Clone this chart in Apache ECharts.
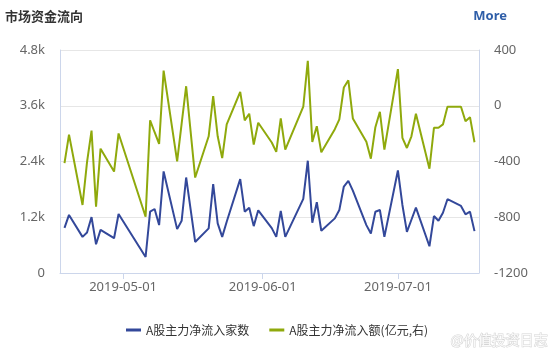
<!DOCTYPE html>
<html>
<head>
<meta charset="utf-8">
<script src="https://cdn.jsdelivr.net/npm/echarts@6/dist/echarts.min.js"></script>
<style>
html,body{margin:0;padding:0;background:#fff;}
#c{width:556px;height:351px;}
</style>
</head>
<body>
<div id="c"></div>
<script>
var dates = [
 '2019-04-18','2019-04-19','2019-04-22','2019-04-23','2019-04-24','2019-04-25','2019-04-26','2019-04-29','2019-04-30',
 '2019-05-06','2019-05-07','2019-05-08','2019-05-09','2019-05-10','2019-05-13','2019-05-14','2019-05-15','2019-05-16','2019-05-17',
 '2019-05-20','2019-05-21','2019-05-22','2019-05-23','2019-05-24','2019-05-27','2019-05-28','2019-05-29','2019-05-30','2019-05-31',
 '2019-06-03','2019-06-04','2019-06-05','2019-06-06','2019-06-10','2019-06-11','2019-06-12','2019-06-13','2019-06-14',
 '2019-06-17','2019-06-18','2019-06-19','2019-06-20','2019-06-21','2019-06-24','2019-06-25','2019-06-26','2019-06-27','2019-06-28',
 '2019-07-01','2019-07-02','2019-07-03','2019-07-04','2019-07-05','2019-07-08','2019-07-09','2019-07-10','2019-07-11','2019-07-12',
 '2019-07-15','2019-07-16','2019-07-17','2019-07-18'
];
var inflowCount = [
 970,1250,778,873,1204,619,929,749,1269,
 344,1319,1378,1031,2186,944,1124,2056,1362,669,
 960,1913,1068,778,1102,2021,1319,1406,1009,1349,
 966,778,1334,778,1594,2417,1081,1523,908,
 1176,1356,1861,1984,1774,1031,851,1319,1356,778,
 2207,1464,886,1146,1406,576,1226,1124,1297,1588,
 1443,1263,1319,901
];
var inflowAmount = [
 -411,-207,-712,-405,-178,-724,-308,-472,-199,
 -796,-105,-190,-274,252,-399,-129,140,-187,-515,
 -219,70,-219,-375,-134,99,-105,-57,-279,-122,
 -264,-331,-91,-315,-7,323,-259,-147,-334,
 -168,-98,131,183,-91,-259,-380,-154,-43,-315,
 263,-230,-303,-219,-57,-452,-158,-158,-134,-7,
 -7,-111,-82,-262
];
var xTickLabels = ['2019-05-01','2019-06-01','2019-07-01'];
var xRange = ['2019-04-17','2019-07-19'];
var seriesNames = ['A股主力净流入家数','A股主力净流入额(亿元,右)'];

function ts(s){ var p=s.split('-'); return Date.UTC(+p[0], +p[1]-1, +p[2]); }
function pad(n){ return (n<10?'0':'')+n; }
function fmtDate(v){ var d=new Date(v); return d.getUTCFullYear()+'-'+pad(d.getUTCMonth()+1)+'-'+pad(d.getUTCDate()); }
var tickVals = xTickLabels.map(ts);

var FONT = '"Noto Sans", "Noto Sans CJK SC", sans-serif';
var CJK = '"Noto Sans CJK SC", sans-serif';
var chart = echarts.init(document.getElementById('c'), null, {renderer:'canvas'});
chart.setOption({
  animation:false,
  backgroundColor:'#ffffff',
  title:[
    {text:'市场资金流向', left:5, top:10, padding:0,
     textStyle:{fontSize:13, fontWeight:'bold', color:'#333', fontFamily:CJK}},
    {text:'More', right:49, top:10, padding:0,
     textStyle:{fontSize:13, fontWeight:'bold', color:'#2f5ea8', fontFamily:FONT}}
  ],
  legend:{
    left:121, top:319, itemWidth:15, itemHeight:3, itemGap:20, icon:'rect',
    textStyle:{fontSize:12, color:'#333', fontFamily:CJK},
    data:seriesNames
  },
  graphic:[
    {type:'text', left:450, top:332, silent:true,
     style:{text:'@价值投资日志', fontSize:14, fill:'#fafafa', stroke:'#d4d4d4', lineWidth:1, fontFamily:CJK}}
  ],
  grid:{left:60, right:77, top:50, bottom:78},
  xAxis:{
    type:'value',
    min:ts(xRange[0]), max:ts(xRange[1]),
    axisLine:{show:true, onZero:false, lineStyle:{color:'#ccd6eb', width:1}},
    axisTick:{show:true, length:6, customValues:tickVals, lineStyle:{color:'#ccd6eb'}},
    axisLabel:{customValues:tickVals, formatter:fmtDate, color:'#666', fontSize:13, margin:8, fontFamily:FONT},
    splitLine:{show:false}
  },
  yAxis:[
    {type:'value', min:0, max:4800, interval:1200, position:'left',
     axisLine:{show:true, lineStyle:{color:'#ccd6eb'}},
     axisTick:{show:false},
     axisLabel:{color:'#666', fontSize:13, margin:15, fontFamily:FONT,
       formatter:function(v){ return v===0?'0':(v/1000).toFixed(1)+'k'; }},
     splitLine:{show:true, lineStyle:{color:'#e6e6e6'}}},
    {type:'value', min:-1200, max:400, interval:400, position:'right',
     axisLine:{show:true, lineStyle:{color:'#ccd6eb'}},
     axisTick:{show:false},
     axisLabel:{color:'#666', fontSize:13, margin:15, fontFamily:FONT,
       formatter:function(v){ return String(v); }},
     splitLine:{show:false}}
  ],
  series:[
    {name:seriesNames[0], type:'line', yAxisIndex:0, showSymbol:false, symbol:'none',
     lineStyle:{width:2, color:'#33489a'}, itemStyle:{color:'#33489a'},
     data:dates.map(function(d,i){ return [ts(d), inflowCount[i]]; })},
    {name:seriesNames[1], type:'line', yAxisIndex:1, showSymbol:false, symbol:'none',
     lineStyle:{width:2, color:'#8fa90c'}, itemStyle:{color:'#8fa90c'},
     data:dates.map(function(d,i){ return [ts(d), inflowAmount[i]]; })}
  ]
});
</script>
</body>
</html>
